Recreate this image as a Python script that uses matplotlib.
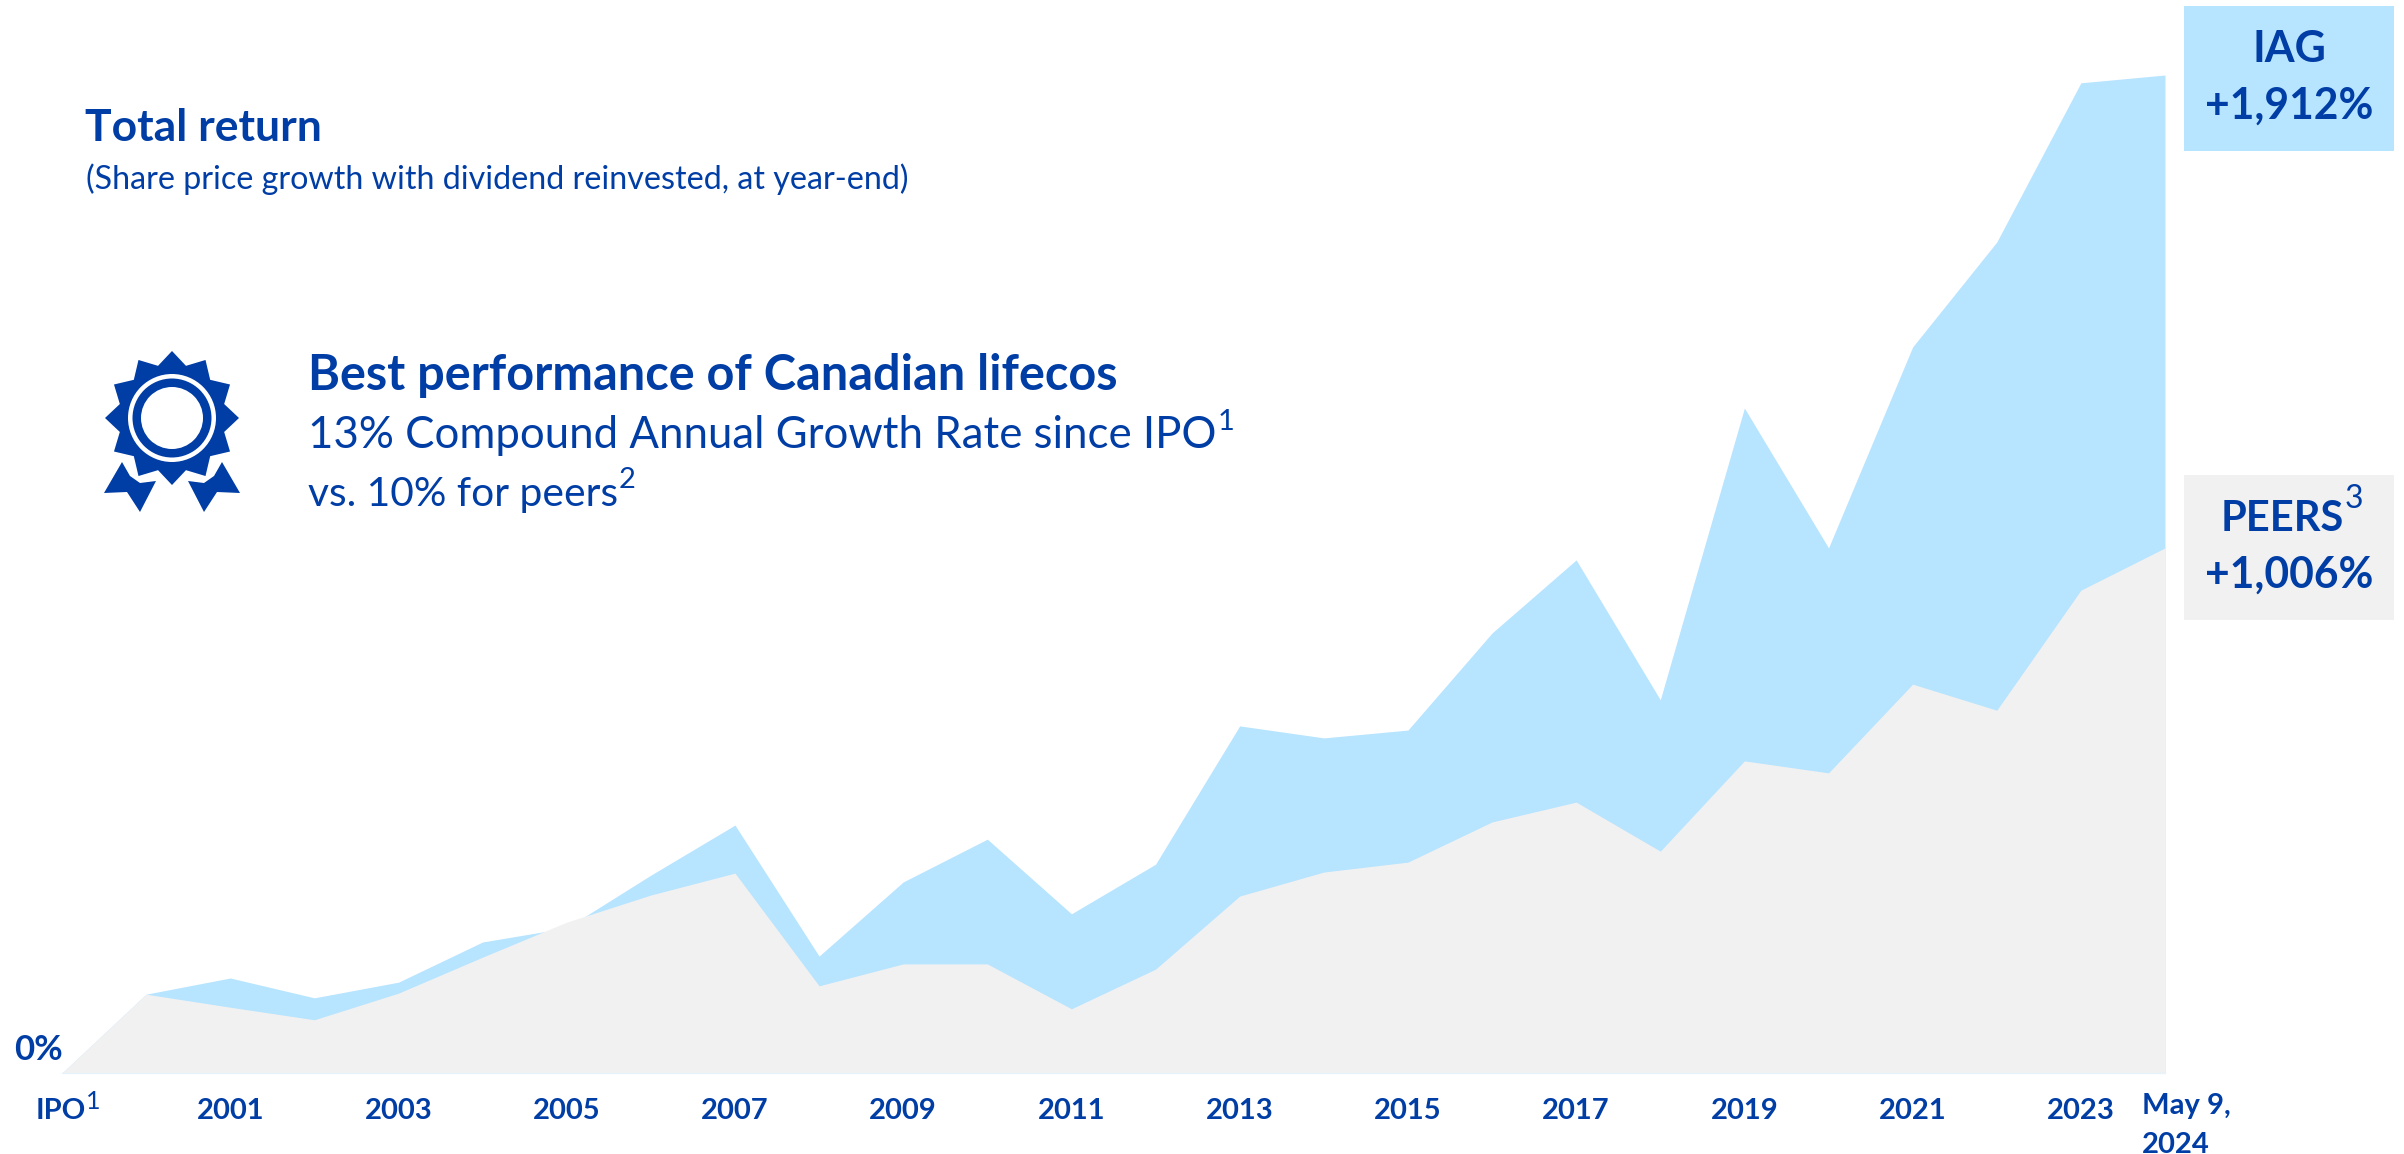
import matplotlib
matplotlib.use('agg')
import matplotlib.pyplot as plt
from matplotlib.patches import Circle, Polygon, Rectangle
import numpy as np

# values, % total return
periods = ['IPO', '2000', '2001', '2002', '2003', '2004', '2005', '2006', '2007', '2008',
           '2009', '2010', '2011', '2012', '2013', '2014', '2015', '2016', '2017', '2018',
           '2019', '2020', '2021', '2022', '2023', 'May 9, 2024']
iag = [0, 151, 182, 144, 174, 251, 278, 379, 475, 224, 366, 448, 305, 400, 665, 642, 657,
       843, 983, 715, 1274, 1006, 1391, 1592, 1897, 1912]
peers = [0, 151, 126, 102, 153, 222, 289, 341, 383, 167, 209, 209, 123, 199, 339, 385, 404,
         481, 519, 425, 598, 575, 745, 695, 925, 1006]

W, H = 2404, 1154
BLUE = '#B7E4FF'
GREY = '#F1F1F1'
INK = '#003DA5'
plt.rcParams['font.family'] = ['Lato', 'DejaVu Sans']

fig = plt.figure(figsize=(W / 100, H / 100), dpi=100, facecolor='white')

# plot area: left 62, right 2165, baseline 1073, top of the scale 75 (pixels)
ax = fig.add_axes([62 / W, 1 - 1073 / H, (2165 - 62) / W, (1073 - 75) / H])
x = np.arange(len(periods))
ax.fill_between(x, iag, color=BLUE, linewidth=0)
ax.fill_between(x, peers, color=GREY, linewidth=0)
ax.axhline(0, color='#E6F3FB', lw=1, clip_on=False)
ax.set_xlim(0, len(periods) - 1)
ax.set_ylim(0, 1912)
ax.set_yticks([])
ticks = [i for i in x if periods[i].isdigit() and int(periods[i]) % 2 == 1]
ax.set_xticks(ticks, [periods[i] for i in ticks], fontsize=21, fontweight='bold', color=INK)
ax.tick_params(axis='x', length=0, pad=18)
for s in ax.spines.values():
    s.set_visible(False)

# everything else sits on an overlay in pixel coordinates
ov = fig.add_axes([0, 0, 1, 1], facecolor='none')
ov.set_xlim(0, W)
ov.set_ylim(H, 0)
ov.axis('off')

ov.add_patch(Rectangle((2184, 6), 210, 145, color=BLUE, lw=0))
ov.add_patch(Rectangle((2184, 475), 210, 145, color=GREY, lw=0))


def label(px, py, s, size, bold=False, ha='left'):
    return ov.text(px, py, s, fontsize=size, fontweight='bold' if bold else 'normal',
                   color=INK, ha=ha, va='baseline')


def sup(t, s, size, dx=1, rise=14):
    # superscript right after a label
    bb = t.get_window_extent(fig.canvas.get_renderer())
    ov.text(bb.x1 + dx, t.get_position()[1] - rise, s, fontsize=size, color=INK, ha='left', va='baseline')


label(85, 141, 'Total return', 32, True)
label(86, 189, '(Share price growth with dividend reinvested, at year-end)', 23.2)
label(308, 390, 'Best performance of Canadian lifecos', 35, True)
t = label(308, 448, '13% Compound Annual Growth Rate since IPO', 31.5)
sup(t, '1', 21, rise=18)
t = label(308, 506, 'vs. 10% for peers', 29.3)
sup(t, '2', 21, rise=18)

label(14, 1060, '0%', 25, True)
t = label(36, 1119, 'IPO', 21, True)
sup(t, '1', 18, dx=0, rise=10)
label(2142, 1114, 'May 9,', 21, True)
label(2142, 1153, '2024', 21, True)

label(2289, 62, 'IAG', 31, True, ha='center')
label(2289, 119, '+1,912%', 30.7, True, ha='center')
t = label(2282, 531, 'PEERS', 30, True, ha='center')
sup(t, '3', 23, dx=1, rise=23)
label(2289, 588, '+1,006%', 30.7, True, ha='center')

# rosette icon
cx, cy = 172, 418
angles = np.deg2rad(np.arange(24) * 15)
radii = np.where(np.arange(24) % 2 == 0, 67, 54)
star = np.column_stack([cx + radii * np.sin(angles), cy - radii * np.cos(angles)])
ribbon = np.array([[-50, 44], [-68, 75], [-45, 74], [-32, 94], [-16, 63], [-32, 65], [-42, 58]], dtype=float)
for flip in (1, -1):
    ov.add_patch(Polygon(ribbon * [flip, 1] + [cx, cy], color=INK, lw=0))
ov.add_patch(Polygon(star, facecolor='white', edgecolor='white', lw=3))
ov.add_patch(Polygon(star, color=INK, lw=0))
ov.add_patch(Circle((cx, cy), 44, color='white', lw=0))
ov.add_patch(Circle((cx, cy), 39.5, color=INK, lw=0))
ov.add_patch(Circle((cx, cy), 31, color='white', lw=0))

fig.savefig('out.png', dpi=100)
